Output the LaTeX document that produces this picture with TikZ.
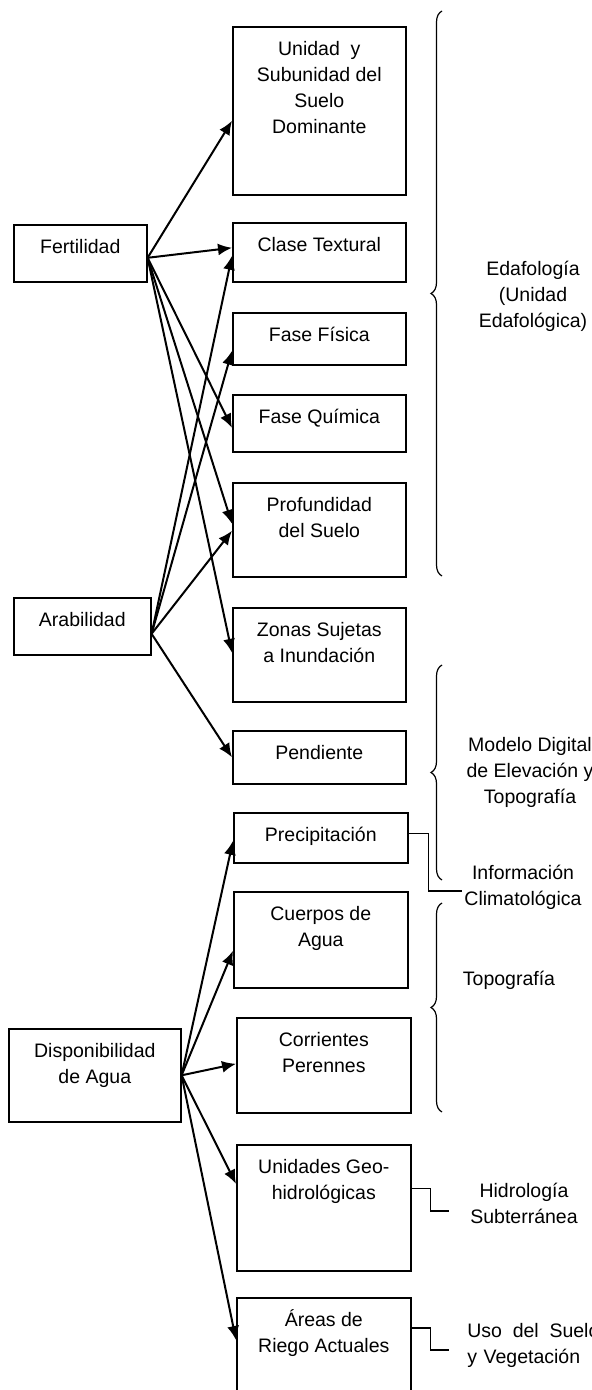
\documentclass[tikz,border=0pt]{standalone}
\usepackage{fontspec}
\setmainfont{Liberation Sans}
\usetikzlibrary{arrows.meta,decorations.pathreplacing}

\newcommand{\letra}{\fontsize{9.75}{13}\selectfont}

\begin{document}
\begin{tikzpicture}[x=0.5pt, y=-0.5pt,
	caja/.style 2 args={draw, line width=0.8pt, anchor=north west, inner sep=0pt,
		minimum width=#1*0.5pt, minimum height=#2*0.5pt},
	rotulo/.style={anchor=north, align=center, inner sep=0pt, yshift=-7.5pt, font=\letra},
	flecha/.style={-{Latex[length=7pt,width=6pt]}, line width=1pt},
	llave/.style={decorate, decoration={brace, amplitude=5.5pt}, line width=0.6pt},
	enlace/.style={line width=0.6pt},
	nota/.style={align=center, inner ysep=0pt, font=\letra}]
	 \useasboundingbox (0,0) rectangle (591,1390);
	 
	 % criterios
	 \node[caja={133}{57}, label={[rotulo]north:Fertilidad}] (fert) at (13,224) {};
	 \node[caja={137}{57}, label={[rotulo]north:Arabilidad}] (arab) at (13,597) {};
	 \node[caja={172}{93}, label={[rotulo]north:Disponibilidad\\de Agua}] (disp) at (8,1028) {};
	 
	 % variables
	 \node[caja={173}{168}, label={[rotulo]north:Unidad~~y\\Subunidad del\\Suelo\\Dominante}] (unidad) at (232,26) {};
	 \node[caja={173}{59}, label={[rotulo]north:Clase Textural}] (clase) at (232,222) {};
	 \node[caja={173}{52}, label={[rotulo]north:Fase Física}] (fisica) at (232,312) {};
	 \node[caja={173}{57}, label={[rotulo]north:Fase Química}] (quimica) at (232,394) {};
	 \node[caja={173}{94}, label={[rotulo]north:Profundidad\\del Suelo}] (prof) at (232,482) {};
	 \node[caja={173}{94}, label={[rotulo]north:Zonas Sujetas\\a Inundación}] (zonas) at (232,607) {};
	 \node[caja={173}{53}, label={[rotulo]north:Pendiente}] (pend) at (232,730) {};
	 \node[caja={174}{50}, label={[rotulo]north:Precipitación}] (precip) at (233,812) {};
	 \node[caja={174}{96}, label={[rotulo]north:Cuerpos de\\Agua}] (cuerpos) at (233,891) {};
	 \node[caja={174}{95}, label={[rotulo]north:Corrientes\\Perennes}] (corr) at (236,1017) {};
	 \node[caja={174}{126}, label={[rotulo]north:Unidades Geo-\\hidrológicas}] (geohid) at (236,1144) {};
	 \node[caja={174}{126}, label={[rotulo]north:\smash{Á}reas de\\Riego Actuales}] (areas) at (236,1297) {};
	 
	 % flechas
	 \foreach \dest/\dy in {unidad/-5, clase/2.25, quimica/-2.25, prof/3, zonas/1}
	 \draw[flecha] ([yshift=-2.25pt]fert.east) -- ([yshift=\dy pt]\dest.west);
	 \foreach \dest/\dy in {clase/-1.75, fisica/-6, prof/-0.5, pend/0}
	 \draw[flecha] ([yshift=-3.75pt]arab.east) -- ([yshift=\dy pt]\dest.west);
	 \foreach \dest/\dy in {precip/-1.5, cuerpos/-5.5, corr/0.75, geohid/12}
	 \draw[flecha] (disp.east) -- ([yshift=\dy pt]\dest.west);
	 \draw[flecha] (disp.east) -- ([yshift=-21.5pt]areas.north west);
	 
	 % fuentes
	 \draw[llave] (442,576) -- (442,11);
	 \node[nota] (edaf) at (533,296) {Edafología\\(Unidad\\Edafológica)};
	 
	 \draw[llave] (442,880) -- (442,665);
	 \node[nota] (modelo) at (530,772) {Modelo Digital\\de Elevación y\\Topografía};
	 
	 \draw[llave] (442,1112) -- (442,903);
	 \node[nota] (topo) at (509,980) {Topografía};
	 
	 \node[nota, inner xsep=1pt] (info) at (523,887) {Información\\Climatológica};
	 \draw[enlace] ([yshift=2pt]precip.east) -- ++(20,0) |- ([yshift=-2pt]info.west);
	 
	 \node[nota, inner xsep=10.5pt] (hidro) at (524,1203) {Hidrología\\Subterránea};
	 \draw[enlace] ([yshift=9.5pt]geohid.east) -- ++(19,0) |- ([yshift=-4pt]hidro.west);
	 
	 \node[nota, inner xsep=9pt, anchor=west, text width=66pt, align=left] (uso) at (449,1345) {Uso\hfill del\hfill Suelo\\y Vegetación};
	 \draw[enlace] ([yshift=-15.5pt]areas.north east) -- ++(19,0) |- ([yshift=-2.5pt]uso.west);
\end{tikzpicture}
\end{document}
